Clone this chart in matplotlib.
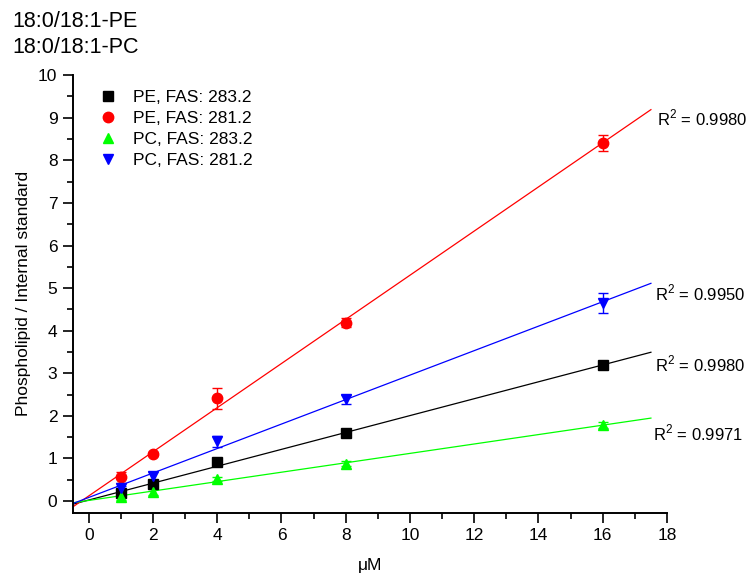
import numpy as np
import matplotlib
matplotlib.use("Agg")
import matplotlib.pyplot as plt
from matplotlib.ticker import MultipleLocator

plt.rcParams['font.family'] = ['Liberation Sans', 'DejaVu Sans']
plt.rcParams['mathtext.fontset'] = 'custom'
plt.rcParams['mathtext.rm'] = 'Liberation Sans'

# Concentrations (µM)
conc = [1, 2, 4, 8, 16]

# Ratio phospholipid / internal standard for each lipid / fatty-acid fragment
pe_283 = [0.18, 0.40, 0.91, 1.59, 3.19]
pe_283_err = [0.03, 0.05, 0.05, 0.05, 0.05]
pe_281 = [0.56, 1.10, 2.41, 4.19, 8.41]
pe_281_err = [0.13, 0.05, 0.25, 0.11, 0.18]
pc_283 = [0.10, 0.22, 0.52, 0.88, 1.78]
pc_283_err = [0.08, 0.07, 0.05, 0.06, 0.07]
pc_281 = [0.30, 0.59, 1.40, 2.39, 4.65]
pc_281_err = [0.06, 0.10, 0.13, 0.10, 0.23]

labels = ["PE, FAS: 283.2", "PE, FAS: 281.2", "PC, FAS: 283.2", "PC, FAS: 281.2"]
r2_labels = ["0.9980", "0.9980", "0.9971", "0.9950"]
colors = ["#000000", "#FF0000", "#00FF00", "#0000FF"]
markers = ["s", "o", "^", "v"]
msizes = [6.5, 7.5, 7.5, 7.5]
r2_pos = [(17.63, 3.22), (17.7, 9.0), (17.55, 1.59), (17.63, 4.89)]

series = [(pe_283, pe_283_err), (pe_281, pe_281_err),
          (pc_283, pc_283_err), (pc_281, pc_281_err)]

fig = plt.figure(figsize=(7.49, 5.74), dpi=100)
ax = fig.add_axes([0.097, 0.107, 0.7935, 0.762])

x_fit = np.array([-0.5, 17.5])
handles = []
for (vals, errs), lab, col, mk, ms, r2, pos in zip(series, labels, colors, markers,
                                                  msizes, r2_labels, r2_pos):
    slope, icpt = np.polyfit(conc, vals, 1)
    ax.plot(x_fit, slope * x_fit + icpt, color=col, lw=0.9, zorder=2)
    ax.errorbar(conc, vals, yerr=errs, fmt="none", ecolor=col, elinewidth=1.0,
                capsize=3.5, capthick=1.0, zorder=3)
    h, = ax.plot(conc, vals, linestyle="none", marker=mk, ms=ms, color=col,
                 mec=col, zorder=4, label=lab)
    handles.append(h)
    ax.text(pos[0], pos[1], r"R$^2$ = " + r2, fontsize=12, va="center",
            ha="left", clip_on=False)

ax.set_xlim(-0.5, 18)
ax.set_ylim(-0.27, 10)
ax.xaxis.set_major_locator(MultipleLocator(2))
ax.xaxis.set_minor_locator(MultipleLocator(1))
ax.yaxis.set_major_locator(MultipleLocator(1))
ax.yaxis.set_minor_locator(MultipleLocator(0.5))

for side in ("top", "right"):
    ax.spines[side].set_visible(False)
for side in ("left", "bottom"):
    ax.spines[side].set_linewidth(1.4)

ax.tick_params(which="major", direction="out", length=7, width=1.2,
               labelsize=12.5, pad=4)
ax.tick_params(which="minor", direction="out", length=4, width=1.2)

ax.set_xlabel("\u03bcM", fontsize=12.5, labelpad=11)
ax.set_ylabel("Phospholipid / Internal standard", fontsize=12.5, labelpad=5)

ax.legend(handles=handles, loc="upper left", bbox_to_anchor=(0.025, 0.995),
          frameon=False, fontsize=12.5, numpoints=1, handlelength=1.0,
          handletextpad=0.9, labelspacing=0.34, borderpad=0.2)

fig.text(0.017, 0.962, "18:0/18:1-PE", fontsize=15.5, va="center", ha="left")
fig.text(0.017, 0.918, "18:0/18:1-PC", fontsize=15.5, va="center", ha="left")

fig.savefig("out.png", dpi=100)
